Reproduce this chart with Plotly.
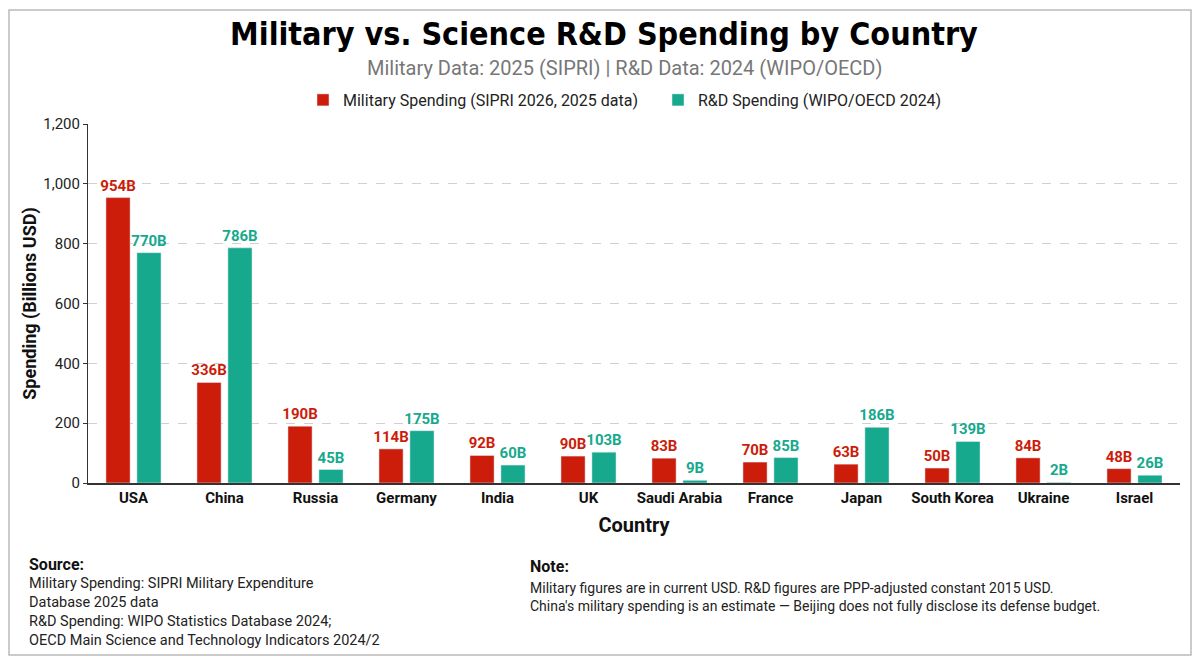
import plotly.graph_objects as go

countries = ["USA", "China", "Russia", "Germany", "India", "UK", "Saudi Arabia",
             "France", "Japan", "South Korea", "Ukraine", "Israel"]
military = [954, 336, 190, 114, 92, 90, 83, 70, 63, 50, 84, 48]
research = [770, 786, 45, 175, 60, 103, 9, 85, 186, 139, 2, 26]

RED = "#cc1d0b"
TEAL = "#17a98d"

# the page puts the figure 8px in from the corner, so work in reference pixels minus that
OFF = 8
W, H = 1200 - OFF, 664 - OFF
L, T = 88 - OFF, 124 - OFF
R, B = 20, 664 - 483
PW, PH = W - L - R, H - T - B


def px(x):
    return (x - OFF - L) / PW


def py(y):
    return (T + PH - (y - OFF)) / PH


fig = go.Figure()
fig.add_trace(go.Bar(
    x=countries, y=military, name="Military Spending (SIPRI 2026, 2025 data)",
    marker_color=RED, text=[f"{v}B" for v in military], textposition="outside",
    constraintext="none", cliponaxis=False,
    textfont=dict(color=RED, size=15, family="Roboto", weight="bold"),
))
fig.add_trace(go.Bar(
    x=countries, y=research, name="R&D Spending (WIPO/OECD 2024)",
    marker_color=TEAL, text=[f"{v}B" for v in research], textposition="outside",
    constraintext="none", cliponaxis=False,
    textfont=dict(color=TEAL, size=15, family="Roboto", weight="bold"),
))

fig.update_layout(
    width=W, height=H,
    margin=dict(l=L, r=R, t=T, b=B),
    paper_bgcolor="white", plot_bgcolor="white",
    font=dict(family="Roboto", color="#222"),
    barmode="group", bargap=0.32, bargroupgap=0.22,
    title=dict(text="<b>Military vs. Science R&D Spending by Country</b>",
               x=0.5, xanchor="center", y=1 - (34 - OFF) / H, yanchor="middle",
               font=dict(family="DejaVu Sans Condensed, Roboto", size=32, color="black", weight=900)),
    legend=dict(orientation="h", x=px(658), xanchor="center", y=py(100), yanchor="middle",
                font=dict(size=16, color="#222"), traceorder="normal",
                entrywidth=310, entrywidthmode="pixels"),
)

fig.update_yaxes(
    range=[0, 1200], dtick=200, tickformat=",", showgrid=True,
    gridcolor="#d0d0d0", griddash="dash", showline=True, linecolor="#333",
    ticks="outside", tickcolor="#333", ticklen=4,
    zeroline=False, tickfont=dict(size=15, color="#222"),
    title=dict(text="<b>Spending (Billions USD)</b>", font=dict(size=18, color="#111"), standoff=2),
)
fig.update_xaxes(
    showline=True, linecolor="#333", linewidth=1.5,
    tickfont=dict(size=15, color="#111", weight="bold"),
    title=dict(text="<b>Country</b>", font=dict(size=20, color="#111"), standoff=12),
)

fig.add_annotation(text="Military Data: 2025 (SIPRI) | R&D Data: 2024 (WIPO/OECD)",
                   xref="paper", yref="paper", x=px(624), y=py(68),
                   xanchor="center", yanchor="middle", showarrow=False,
                   font=dict(size=20, color="#777"))

fig.add_annotation(text="<b>Source:</b>", xref="paper", yref="paper", x=px(27), y=py(564),
                   xanchor="left", yanchor="middle", showarrow=False,
                   font=dict(size=16, color="#111"))
fig.add_annotation(
    text="Military Spending: SIPRI Military Expenditure<br>Database 2025 data<br>"
         "R&D Spending: WIPO Statistics Database 2024;<br>"
         "OECD Main Science and Technology Indicators 2024/2",
    xref="paper", yref="paper", x=px(27), y=py(573), xanchor="left", yanchor="top",
    align="left", showarrow=False, font=dict(size=14.5, color="#222"))

fig.add_annotation(text="<b>Note:</b>", xref="paper", yref="paper", x=px(528), y=py(566),
                   xanchor="left", yanchor="middle", showarrow=False,
                   font=dict(size=16, color="#111"))
fig.add_annotation(
    text="Military figures are in current USD. R&D figures are PPP-adjusted constant 2015 USD.<br>"
         "China's military spending is an estimate — Beijing does not fully disclose its defense budget.",
    xref="paper", yref="paper", x=px(528), y=py(578), xanchor="left", yanchor="top",
    align="left", showarrow=False, font=dict(size=14, color="#222"))

fig.add_shape(type="rect", xref="paper", yref="paper",
              x0=px(9), x1=px(1191), y0=py(655), y1=py(10),
              line=dict(color="#bbbbbb", width=1.5), layer="above")

fig.write_html("out.html")
